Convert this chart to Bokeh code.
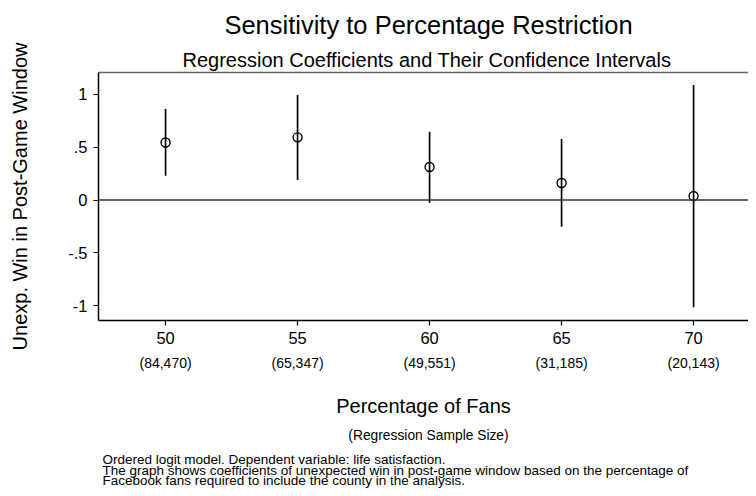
from bokeh.plotting import figure
from bokeh.layouts import column
from bokeh.models import (Range1d, FixedTicker, LinearAxis, Label, Title,
                          ColumnDataSource, Span)
from bokeh.embed import file_html
from bokeh.resources import INLINE

# ---- data ----
pct = [50, 55, 60, 65, 70]
coef = [0.545, 0.594, 0.313, 0.161, 0.038]
ci_lo = [0.230, 0.190, -0.026, -0.253, -1.017]
ci_hi = [0.863, 0.995, 0.647, 0.578, 1.090]
sample_sizes = ["(84,470)", "(65,347)", "(49,551)", "(31,185)", "(20,143)"]
y_ticks = [-1, -0.5, 0, 0.5, 1]
y_tick_labels = ["-1", "-.5", "0", ".5", "1"]

title = "Sensitivity to Percentage Restriction"
subtitle = "Regression Coefficients and Their Confidence Intervals"
x_title = "Percentage of Fans"
x_subtitle = "(Regression Sample Size)"
y_title = "Unexp. Win in Post-Game Window"
notes = [
    "Ordered logit model. Dependent variable: life satisfaction.",
    "The graph shows coefficients of unexpected win in post-game window based on the percentage of",
    "Facebook fans required to include the county in the analysis.",
]

FONT = "Liberation Sans"

# ---- layout (pixels) ----
W = 748
FRAME_L = 98
HEAD_H = 39          # header strip 0..39
MAIN_H = 385         # main figure 39..424
FOOT_H = 64          # footer strip 424..488
FRAME_T = 72
FRAME_B = 320
X0, X1 = 47.46, 72.08
Y0, Y1 = -1.142, 1.2085


def text_strip(h, top):
    f = figure(width=W, height=h, output_backend="svg", toolbar_location=None,
               title=None, x_range=Range1d(FRAME_L, W),
               y_range=Range1d(top + h, top),
               min_border_left=FRAME_L, min_border_right=0,
               min_border_top=0, min_border_bottom=0,
               x_axis_location=None, y_axis_location=None)
    f.grid.visible = False
    f.outline_line_color = None
    return f


def lab(f, txt, x, y, size, align="center"):
    f.add_layout(Label(x=x, y=y, text=txt, text_font=FONT,
                       text_font_size=size, text_align=align,
                       text_baseline="middle", text_color="black"))


# header
head = text_strip(HEAD_H, 0)
lab(head, title, 428, 24, "25.5px")

# main plot
p = figure(width=W, height=MAIN_H, output_backend="svg", toolbar_location=None,
           title=None, x_range=Range1d(X0, X1), y_range=Range1d(Y0, Y1),
           min_border_left=FRAME_L, min_border_right=0,
           min_border_top=FRAME_T - HEAD_H,
           min_border_bottom=HEAD_H + MAIN_H - FRAME_B,
           x_axis_location=None, y_axis_location=None)
p.grid.visible = False
p.outline_line_color = None


def style_axis(ax, size):
    ax.axis_line_color = "black"
    ax.axis_line_width = 1.5
    ax.major_tick_line_color = "black"
    ax.major_tick_line_width = 1.2
    ax.major_tick_out = 5
    ax.major_tick_in = 0
    ax.minor_tick_line_color = None
    ax.major_label_text_font = FONT
    ax.major_label_text_font_size = size
    ax.major_label_text_color = "black"


def style_axis_label(ax, size):
    ax.axis_label_text_font = FONT
    ax.axis_label_text_font_size = size
    ax.axis_label_text_font_style = "normal"
    ax.axis_label_text_color = "black"


xa = LinearAxis(ticker=FixedTicker(ticks=pct))
style_axis(xa, "16.5px")
xa.major_label_standoff = 6
p.add_layout(xa, "below")

xn = LinearAxis(ticker=FixedTicker(ticks=pct))
style_axis(xn, "14px")
xn.major_label_overrides = {x: n for x, n in zip(pct, sample_sizes)}
xn.axis_line_color = None
xn.major_tick_line_color = None
xn.major_tick_out = 0
xn.major_label_standoff = 8
xn.axis_label = x_title
style_axis_label(xn, "20px")
xn.axis_label_standoff = 21
p.add_layout(xn, "below")

ya = LinearAxis(ticker=FixedTicker(ticks=y_ticks))
style_axis(ya, "16.5px")
ya.major_label_overrides = {t: l for t, l in zip(y_ticks, y_tick_labels)}
ya.major_label_standoff = 6
ya.major_label_orientation = "horizontal"
ya.axis_label = y_title
style_axis_label(ya, "20px")
ya.axis_label_standoff = 34
p.add_layout(ya, "left")

ta = LinearAxis(ticker=FixedTicker(ticks=[]))
ta.axis_line_color = "#666666"
ta.axis_line_width = 1.5
ta.major_tick_line_color = None
ta.major_tick_out = 0
ta.minor_tick_line_color = None
ta.major_label_text_font_size = "0px"
ta.major_label_standoff = 0
p.add_layout(ta, "above")

p.add_layout(Title(text=subtitle, text_font=FONT, text_font_size="20px",
                   text_font_style="normal", text_color="black",
                   align="left", offset=84, vertical_align="bottom",
                   standoff=4), "above")

p.add_layout(Span(location=0, dimension="width", line_color="#333333",
                  line_width=1.3))

src = ColumnDataSource(dict(x=pct, y=coef, lo=ci_lo, hi=ci_hi))
p.segment(x0="x", y0="lo", x1="x", y1="hi", source=src, line_color="black",
          line_width=1.7)
p.scatter(x="x", y="y", source=src, marker="circle", size=9,
          fill_color=None, line_color="black", line_width=1.4)

# footer
foot = text_strip(FOOT_H, HEAD_H + MAIN_H)
lab(foot, x_subtitle, 428, 435, "13.8px")
for i, line in enumerate(notes):
    lab(foot, line, 102, 459.4 + 10.5 * i, "13.5px", align="left")

layout = column(head, p, foot, spacing=0)
open("out.html", "w").write(file_html(layout, INLINE))
